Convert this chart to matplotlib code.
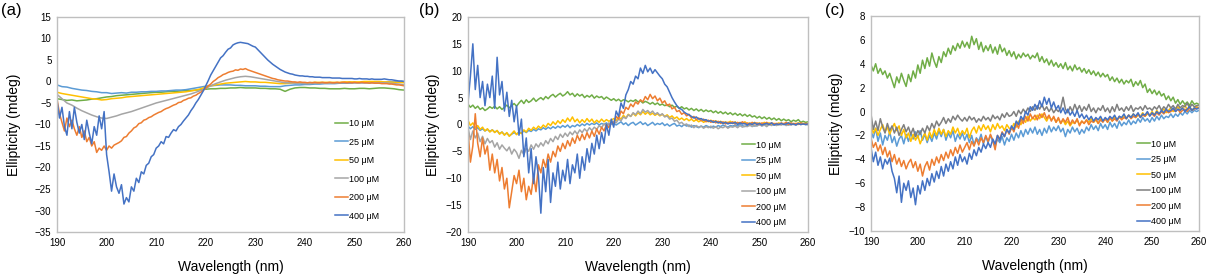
import numpy as np
import matplotlib
matplotlib.use('Agg')
import matplotlib.pyplot as plt

plt.rcParams['font.family'] = ['Liberation Sans', 'DejaVu Sans']

# spectra run from 190 to 260 nm; smooth traces sampled every 1 nm,
# noisy traces every 0.5 nm
labels = ['10 μM', '25 μM', '50 μM', '100 μM', '200 μM', '400 μM']

# ---- panel (a), 1 nm
a10 = [-4.0, -4.2, -4.4, -4.3, -4.5, -4.4, -4.3, -4.1, -4.0, -3.8,
       -3.6, -3.5, -3.3, -3.2, -3.1, -3.0, -2.9, -2.8, -2.7, -2.6,
       -2.5, -2.5, -2.4, -2.3, -2.3, -2.2, -2.1, -2.1, -2.0, -1.9,
       -1.8, -1.7, -1.7, -1.6, -1.6, -1.5, -1.5, -1.4, -1.5, -1.5,
       -1.5, -1.6, -1.6, -1.7, -1.7, -1.8, -2.3, -1.8, -1.5, -1.4,
       -1.4, -1.5, -1.5, -1.6, -1.6, -1.7, -1.7, -1.7, -1.6, -1.7,
       -1.7, -1.6, -1.6, -1.7, -1.6, -1.5, -1.5, -1.6, -1.7, -1.9, -2.0]
a25 = [-0.8, -1.2, -1.3, -1.6, -1.8, -2.0, -2.1, -2.3, -2.4, -2.6,
       -2.6, -2.8, -2.7, -2.6, -2.7, -2.5, -2.5, -2.4, -2.4, -2.3,
       -2.3, -2.2, -2.2, -2.1, -2.0, -2.0, -1.9, -1.7, -1.5, -1.3,
       -1.1, -1.0, -0.9, -0.8, -0.8, -0.8, -0.9, -0.9, -1.0, -1.0,
       -1.0, -1.1, -1.1, -1.2, -1.2, -1.2, -1.0, -0.9, -0.8, -0.8,
       -0.7, -0.7, -0.6, -0.6, -0.5, -0.5, -0.5, -0.4, -0.4, -0.4,
       -0.3, -0.3, -0.3, -0.3, -0.2, -0.2, -0.2, -0.1, -0.1, 0.0, 0.0]
a50 = [-2.5, -2.8, -3.0, -3.2, -3.4, -3.6, -3.8, -4.0, -4.1, -4.3,
       -4.2, -4.0, -3.9, -3.8, -3.6, -3.5, -3.4, -3.3, -3.2, -3.1,
       -3.0, -2.9, -2.8, -2.7, -2.6, -2.5, -2.4, -2.2, -2.0, -1.7,
       -1.3, -1.0, -0.8, -0.6, -0.4, -0.3, -0.2, -0.1, 0.0, -0.1,
       -0.1, -0.2, -0.2, -0.3, -0.4, -0.5, -0.5, -0.4, -0.3, -0.3,
       -0.3, -0.3, -0.2, -0.2, -0.2, -0.2, -0.2, -0.2, -0.1, -0.1,
       -0.1, -0.1, 0.0, 0.0, 0.0, 0.0, -0.1, -0.1, -0.2, -0.2, -0.3]
a100 = [-3.0, -4.0, -5.0, -5.5, -6.2, -6.8, -7.3, -7.8, -8.2, -8.5,
        -8.6, -8.3, -8.0, -7.6, -7.3, -7.0, -6.6, -6.2, -5.8, -5.4,
        -5.0, -4.7, -4.4, -4.1, -3.8, -3.5, -3.2, -2.9, -2.5, -2.1,
        -1.6, -1.0, -0.5, -0.1, 0.3, 0.6, 0.9, 1.1, 1.2, 1.1,
        0.9, 0.7, 0.5, 0.3, 0.1, -0.1, -0.3, -0.3, -0.4, -0.4,
        -0.5, -0.5, -0.4, -0.4, -0.4, -0.4, -0.3, -0.3, -0.3, -0.3,
        -0.3, -0.3, -0.3, -0.3, -0.3, -0.3, -0.3, -0.4, -0.5, -0.6, -0.8]
# 0.5 nm
a200 = [-4.0, -7.5, -9.5, -11.5, -8.5, -10.5, -9.0, -11.0, -12.5, -10.5,
        -13.0, -11.5, -14.0, -13.0, -15.0, -14.0, -16.5, -15.5, -16.0, -15.0,
        -16.0, -15.0, -15.5, -14.8, -14.5, -14.2, -13.8, -13.0, -12.8, -12.0,
        -11.5, -10.8, -10.5, -9.8, -9.6, -9.0, -8.8, -8.4, -8.2, -7.8,
        -7.5, -7.2, -7.0, -6.6, -6.3, -6.1, -5.8, -5.5, -5.3, -4.9,
        -4.8, -4.4, -4.2, -3.9, -3.8, -3.4, -3.2, -2.8, -2.5, -2.0,
        -1.6, -1.0, -0.6, 0.0, 0.4, 0.9, 1.2, 1.6, 1.8, 2.1,
        2.3, 2.4, 2.7, 2.6, 2.9, 2.8, 3.0, 2.7, 2.5, 2.3,
        2.1, 1.9, 1.7, 1.5, 1.3, 1.1, 0.9, 0.7, 0.6, 0.4,
        0.3, 0.2, 0.1, 0.1, 0.0, -0.1, -0.1, -0.2, -0.1, -0.2,
        -0.2, -0.3, -0.2, -0.3, -0.2, -0.3, -0.3, -0.2, -0.3, -0.3,
        -0.2, -0.3, -0.3, -0.2, -0.3, -0.2, -0.2, -0.3, -0.2, -0.3,
        -0.2, -0.3, -0.3, -0.2, -0.3, -0.3, -0.4, -0.3, -0.4, -0.4,
        -0.4, -0.5, -0.5, -0.5, -0.6, -0.6, -0.7, -0.8, -0.8, -0.9,
        -1.0]
a400 = [-4.5, -8.5, -6.0, -10.5, -12.5, -7.0, -11.0, -6.0, -9.5, -12.0,
        -10.0, -13.5, -9.0, -12.0, -14.5, -10.5, -12.5, -8.0, -11.0, -7.0,
        -17.0, -21.0, -25.5, -21.5, -24.5, -26.0, -24.0, -28.5, -27.0, -28.0,
        -24.5, -25.5, -22.5, -23.5, -21.0, -21.5, -19.5, -19.0, -17.5, -17.0,
        -15.5, -15.0, -14.0, -14.5, -12.8, -13.0, -12.0, -11.2, -11.5, -10.5,
        -10.0, -9.2, -8.5, -7.8, -6.8, -6.0, -5.0, -4.2, -3.2, -2.2,
        -1.0, 0.2, 1.5, 2.5, 3.5, 4.5, 5.5, 6.0, 6.8, 7.5,
        7.8, 8.5, 8.8, 9.0, 9.1, 9.0, 8.9, 8.8, 8.5, 8.2,
        8.0, 7.4, 6.8, 6.2, 5.6, 5.0, 4.5, 4.0, 3.6, 3.2,
        2.8, 2.5, 2.2, 2.0, 1.8, 1.7, 1.5, 1.4, 1.3, 1.3,
        1.2, 1.2, 1.1, 1.1, 1.0, 1.0, 1.0, 0.9, 0.9, 0.9,
        0.9, 0.8, 0.8, 0.8, 0.8, 0.7, 0.7, 0.7, 0.7, 0.7,
        0.6, 0.6, 0.7, 0.6, 0.6, 0.6, 0.5, 0.6, 0.5, 0.5,
        0.5, 0.5, 0.6, 0.5, 0.4, 0.4, 0.3, 0.2, 0.1, 0.1,
        0.0]

# ---- panel (b), 0.5 nm
b10 = [3.8, 3.2, 3.6, 3.0, 3.4, 2.8, 3.1, 2.6, 2.9, 3.3,
       3.0, 3.4, 2.9, 3.3, 2.8, 3.2, 3.6, 3.1, 3.5, 3.9,
       3.4, 4.0, 4.5, 3.9, 4.6, 4.1, 4.4, 4.9, 4.3, 4.7,
       5.0, 4.6, 5.2, 4.8, 5.3, 5.6, 5.1, 5.5, 5.8, 5.3,
       5.6, 6.1, 5.5, 5.8, 5.2, 5.7, 5.3, 5.6, 5.0, 5.4,
       5.1, 5.5, 4.9, 5.3, 5.0, 5.2, 4.7, 5.1, 4.8, 4.5,
       4.8, 4.4, 4.7, 4.3, 4.6, 4.5, 4.2, 4.5, 4.3, 4.6,
       4.2, 4.4, 4.0, 4.3, 4.1, 3.8, 4.1, 3.7, 4.0, 3.6,
       3.8, 3.5, 3.7, 3.3, 3.6, 3.2, 3.4, 3.0, 3.3, 2.9,
       3.1, 2.7, 3.0, 2.6, 2.9, 2.5, 2.8, 2.4, 2.7, 2.4,
       2.6, 2.2, 2.5, 2.1, 2.4, 2.0, 2.3, 1.9, 2.2, 1.8,
       2.1, 1.7, 2.0, 1.6, 1.9, 1.5, 1.8, 1.4, 1.6, 1.2,
       1.5, 1.1, 1.4, 1.0, 1.3, 0.9, 1.2, 0.8, 1.1, 0.7,
       1.0, 0.7, 0.9, 0.5, 0.8, 0.6, 0.9, 0.4, 0.6, 0.4,
       0.5]
b25 = [-0.3, -0.8, -0.4, -0.9, -0.6, -1.1, -0.8, -1.2, -0.9, -1.3,
       -1.0, -1.4, -1.2, -1.7, -1.4, -1.9, -1.6, -2.1, -1.8, -1.5,
       -1.8, -1.4, -1.6, -1.2, -1.5, -1.1, -1.3, -0.9, -1.2, -0.8,
       -1.0, -0.6, -0.9, -0.5, -0.8, -0.4, -0.7, -0.3, -0.6, -0.2,
       -0.5, -0.1, -0.6, -0.2, -0.4, 0.0, -0.3, 0.1, -0.2, 0.2,
       -0.1, 0.2, 0.0, 0.3, -0.1, 0.2, 0.0, 0.3, -0.1, 0.1,
       0.3, -0.1, 0.2, 0.5, 0.0, 0.3, -0.2, 0.2, 0.4, -0.1,
       0.2, 0.5, 0.0, 0.3, -0.2, 0.1, 0.4, -0.1, 0.2, 0.0,
       0.3, -0.2, 0.1, -0.3, 0.0, 0.2, -0.3, -0.1, -0.4, 0.0,
       -0.3, -0.1, -0.5, -0.2, -0.4, -0.6, -0.3, -0.5, -0.2, -0.4,
       -0.6, -0.3, -0.5, -0.2, -0.4, -0.1, -0.3, -0.5, -0.2, -0.3,
       -0.1, -0.3, 0.0, -0.2, -0.4, -0.1, -0.2, 0.0, -0.3, -0.1,
       0.0, -0.2, 0.1, -0.1, 0.0, 0.2, -0.1, 0.1, 0.0, 0.2,
       0.0, 0.1, -0.1, 0.2, 0.0, 0.1, 0.2, 0.0, 0.1, 0.0,
       0.0]
b50 = [0.8, -0.2, 0.3, -0.6, -0.2, -0.9, -0.5, -1.2, -0.8, -1.4,
       -1.0, -1.5, -1.1, -1.8, -1.4, -2.0, -1.5, -2.2, -1.7, -1.2,
       -1.9, -1.4, -1.7, -1.0, -1.4, -0.7, -1.1, -0.5, -0.9, -0.3,
       -0.7, -0.1, -0.5, 0.2, -0.2, 0.5, 0.0, 0.7, 0.2, 0.9,
       0.4, 1.2, 0.6, 1.4, 0.5, 1.0, 0.3, 0.9, 0.4, 1.1,
       0.5, 1.0, 0.3, 0.8, 0.4, 1.0, 0.5, 0.9, 0.6, 0.8,
       1.1, 0.7, 1.4, 1.0, 1.7, 1.2, 1.9, 1.5, 2.1, 1.6,
       2.2, 1.8, 2.4, 1.9, 2.3, 1.8, 2.1, 1.7, 2.0, 1.6,
       1.9, 1.5, 1.8, 1.3, 1.6, 1.1, 1.4, 0.9, 1.2, 0.8,
       1.1, 0.7, 1.0, 0.6, 0.9, 0.5, 0.8, 0.4, 0.7, 0.5,
       0.8, 0.4, 0.7, 0.3, 0.6, 0.2, 0.5, 0.3, 0.6, 0.2,
       0.5, 0.1, 0.4, 0.2, 0.5, 0.1, 0.3, 0.0, 0.4, 0.1,
       0.3, 0.0, 0.4, 0.1, 0.3, 0.0, 0.2, 0.1, 0.3, 0.0,
       0.2, 0.1, 0.3, 0.0, 0.2, 0.1, 0.3, 0.1, 0.2, 0.1,
       0.2]
b100 = [-0.5, -2.8, -1.2, -2.5, -1.6, -3.2, -2.2, -3.6, -2.6, -3.4,
        -3.0, -4.2, -3.4, -4.6, -3.8, -4.4, -4.9, -4.2, -5.5, -4.6,
        -5.2, -6.3, -4.8, -5.6, -4.4, -5.0, -3.8, -4.6, -3.6, -4.2,
        -3.4, -4.0, -3.0, -3.6, -2.6, -3.2, -2.2, -2.8, -1.8, -2.4,
        -1.6, -2.2, -1.4, -1.9, -1.2, -1.8, -1.0, -1.5, -0.8, -1.3,
        -0.6, -1.1, -0.5, -0.9, -0.2, -0.6, 0.1, -0.3, 0.3, 0.0,
        0.6, 0.3, 1.0, 0.7, 1.4, 1.1, 1.8, 1.5, 2.2, 1.8,
        2.5, 2.0, 2.8, 2.3, 2.6, 2.1, 2.5, 1.9, 2.2, 1.7,
        2.0, 1.4, 1.6, 1.0, 1.2, 0.6, 0.8, 0.2, 0.4, -0.1,
        0.1, -0.4, -0.1, -0.6, -0.2, -0.5, -0.3, -0.7, -0.4, -0.6,
        -0.3, -0.7, -0.4, -0.8, -0.5, -0.6, -0.3, -0.7, -0.4, -0.5,
        -0.3, -0.6, -0.2, -0.5, -0.3, -0.4, -0.1, -0.4, -0.2, -0.3,
        0.0, -0.3, -0.1, -0.4, 0.0, -0.2, 0.1, -0.2, 0.0, -0.1,
        0.1, -0.2, 0.0, -0.1, 0.1, -0.1, 0.1, 0.0, 0.1, 0.0,
        0.0]
b200 = [-1.0, -7.0, -4.0, 2.0, -3.5, -6.0, -2.5, -5.5, -4.0, -8.5,
        -5.5, -9.0, -6.5, -10.5, -8.0, -12.0, -10.0, -15.5, -12.5, -9.5,
        -11.0, -8.5, -12.5, -10.0, -14.0, -11.5, -13.0, -9.5, -12.5, -7.5,
        -9.0, -6.5, -8.0, -5.5, -7.0, -5.0, -6.0, -4.0, -5.0, -3.5,
        -4.5, -3.0, -4.0, -2.5, -3.5, -2.0, -3.0, -1.8, -2.8, -1.5,
        -2.5, -1.2, -2.2, -0.8, -1.8, -0.5, -1.2, 0.0, -0.6, 0.5,
        0.2, 1.5, 1.0, 2.5, 2.0, 3.2, 2.8, 3.8, 3.3, 4.2,
        3.8, 4.6, 4.2, 5.2, 4.6, 5.6, 4.8, 5.3, 4.4, 4.9,
        4.0, 4.4, 3.5, 3.8, 2.9, 3.2, 2.4, 2.6, 1.9, 2.2,
        1.6, 1.9, 1.2, 1.5, 0.9, 1.2, 0.7, 1.0, 0.5, 0.8,
        0.4, 0.7, 0.3, 0.6, 0.2, 0.5, 0.1, 0.4, 0.2, 0.5,
        0.1, 0.4, 0.2, 0.5, 0.1, 0.3, 0.0, 0.4, 0.1, 0.3,
        0.0, 0.3, 0.1, 0.4, 0.0, 0.3, 0.1, 0.2, 0.0, 0.3,
        0.1, 0.4, 0.0, 0.3, 0.1, 0.2, 0.0, 0.3, 0.1, 0.2,
        0.0]
b400 = [4.0, 9.0, 15.0, 6.5, 11.0, 5.0, 8.0, 3.5, 7.5, 5.0,
        9.0, 3.0, 12.5, 5.5, 8.0, 2.5, 6.0, 1.5, 4.5, 0.5,
        3.5, -2.0, 1.0, -6.0, -2.5, -9.0, -4.5, -11.0, -6.0, -9.5,
        -16.5, -8.0, -12.5, -6.5, -14.5, -9.0, -11.5, -7.0, -12.0, -8.5,
        -10.5, -6.5, -11.0, -7.5, -9.0, -5.5, -10.0, -6.0, -8.5, -4.5,
        -7.0, -3.5, -5.5, -2.0, -4.5, -1.5, -3.5, 0.0, -2.0, 1.0,
        -0.5, 2.5, 1.5, 4.0, 3.0, 5.5, 6.5, 8.0, 7.5, 9.0,
        8.5, 10.5, 9.5, 11.0, 9.8, 10.5, 9.5, 10.2, 9.6, 9.0,
        8.5, 7.5, 7.0, 6.0, 5.0, 4.2, 3.5, 3.0, 2.8, 2.3,
        2.0, 1.8, 1.5, 1.2, 1.4, 1.0, 1.1, 0.8, 0.9, 0.6,
        0.7, 0.4, 0.6, 0.3, 0.5, 0.2, 0.4, 0.1, 0.3, 0.2,
        0.4, 0.0, 0.3, 0.1, 0.2, -0.1, 0.2, 0.0, 0.3, 0.0,
        0.2, -0.1, 0.1, 0.2, 0.0, 0.3, -0.1, 0.1, 0.0, 0.2,
        0.0, 0.1, 0.3, 0.0, 0.1, -0.1, 0.2, 0.0, 0.1, 0.0,
        0.1]

# ---- panel (c), 0.5 nm
c10 = [3.9, 3.4, 4.0, 3.2, 3.6, 3.1, 3.4, 2.8, 3.2, 2.6,
       2.0, 2.9, 2.4, 3.2, 2.6, 2.1, 3.1, 2.5, 3.4, 2.8,
       3.9, 3.2, 4.3, 3.6, 4.5, 3.8, 4.9, 4.2, 3.7, 4.6,
       4.1, 5.0, 4.6, 5.3, 4.8, 5.5, 5.1, 5.7, 5.3, 5.9,
       5.4, 5.8, 5.3, 6.3, 5.6, 6.1, 5.2, 5.8, 5.0, 5.5,
       5.1, 5.6, 4.9, 5.4, 4.8, 5.6, 5.0, 5.3, 4.7, 5.1,
       4.6, 5.0, 4.4, 4.8, 4.5, 4.9, 4.6, 4.8, 4.4, 4.7,
       4.5, 4.9, 4.2, 4.6, 4.1, 4.4, 3.9, 4.3, 3.8, 4.1,
       3.7, 4.0, 3.6, 4.1, 3.5, 3.8, 3.4, 3.9, 3.5, 3.7,
       3.3, 3.6, 3.2, 3.5, 3.1, 3.4, 3.0, 3.3, 2.9, 3.2,
       2.9, 3.1, 2.6, 2.9, 2.5, 2.8, 2.4, 2.7, 2.3, 2.6,
       2.4, 2.7, 2.1, 2.5, 2.2, 2.6, 2.0, 2.3, 1.6, 1.9,
       1.5, 1.8, 1.4, 1.7, 1.3, 1.5, 1.0, 1.3, 0.9, 1.2,
       0.7, 1.0, 0.6, 0.9, 0.6, 0.8, 0.5, 0.9, 0.6, 0.7,
       0.6]
c25 = [-1.6, -2.2, -1.4, -2.5, -1.8, -2.8, -2.0, -2.4, -1.7, -2.6,
       -2.1, -2.9, -2.3, -2.0, -2.7, -1.9, -2.5, -1.8, -2.3, -1.7,
       -2.2, -1.6, -2.4, -1.9, -2.6, -2.0, -2.5, -1.8, -2.3, -1.6,
       -2.1, -1.5, -2.4, -1.8, -2.2, -1.6, -2.5, -1.9, -2.3, -1.8,
       -2.4, -1.9, -2.6, -2.0, -2.8, -2.2, -2.5, -1.9, -2.7, -2.1,
       -2.6, -2.0, -2.5, -2.9, -2.3, -2.6, -2.1, -2.8, -2.2, -2.5,
       -1.9, -2.4, -1.8, -2.2, -1.6, -2.1, -1.5, -1.9, -1.4, -1.8,
       -1.3, -1.9, -1.5, -2.0, -1.4, -1.8, -1.2, -1.7, -1.3, -1.6,
       -1.2, -1.7, -1.4, -2.1, -1.5, -1.8, -1.3, -1.7, -1.4, -1.9,
       -1.5, -1.8, -1.3, -1.6, -1.1, -1.5, -1.2, -1.6, -1.0, -1.4,
       -1.1, -1.5, -0.9, -1.3, -1.0, -1.4, -0.8, -1.2, -0.9, -1.1,
       -0.7, -1.1, -0.8, -1.0, -0.6, -0.9, -0.5, -0.8, -0.6, -0.9,
       -0.5, -0.8, -0.4, -0.7, -0.3, -0.6, -0.4, -0.5, -0.2, -0.5,
       -0.2, -0.4, -0.1, -0.3, 0.0, -0.2, 0.1, -0.1, 0.1, 0.0,
       0.1]
c50 = [-1.2, -1.8, -1.4, -2.0, -1.5, -1.1, -1.7, -1.3, -1.9, -1.4,
       -1.0, -1.6, -1.2, -2.0, -1.5, -2.2, -1.8, -2.5, -1.9, -2.4,
       -2.0, -2.7, -2.2, -1.8, -2.4, -1.7, -2.2, -1.5, -2.0, -1.4,
       -1.9, -1.5, -2.1, -1.6, -1.9, -1.3, -1.8, -1.4, -2.0, -1.6,
       -1.9, -1.4, -2.2, -1.6, -1.3, -1.8, -1.2, -1.6, -1.1, -1.5,
       -1.2, -1.7, -1.1, -1.5, -1.0, -1.4, -1.2, -1.6, -1.1, -1.4,
       -1.5, -1.0, -1.3, -0.8, -1.1, -0.6, -0.9, -0.4, -0.8, -0.5,
       -0.7, -0.3, -0.6, -0.2, -0.5, -0.8, -0.4, -0.7, -0.5, -0.9,
       -0.6, -1.0, -0.7, -1.1, -0.8, -1.2, -0.9, -1.0, -0.7, -1.1,
       -0.8, -1.0, -0.7, -0.9, -0.6, -0.9, -0.7, -1.0, -0.6, -0.8,
       -0.6, -0.9, -0.5, -0.8, -0.4, -0.7, -0.5, -0.6, -0.3, -0.6,
       -0.3, -0.5, -0.2, -0.5, -0.3, -0.4, -0.1, -0.4, -0.2, -0.3,
       0.0, -0.3, 0.1, -0.2, 0.0, 0.2, -0.1, 0.1, 0.3, 0.0,
       0.2, 0.4, 0.1, 0.3, 0.5, 0.2, 0.4, 0.1, 0.3, 0.4,
       0.3]
c100 = [-0.2, -1.5, -0.8, -1.6, -0.6, -1.3, -1.8, -1.0, -1.6, -1.2,
        -1.8, -1.3, -2.0, -1.5, -1.1, -1.7, -1.3, -1.9, -1.4, -2.1,
        -1.6, -1.9, -1.4, -1.8, -1.2, -1.6, -1.0, -1.4, -0.8, -1.2,
        -0.9, -0.5, -1.0, -0.6, -0.9, -0.4, -0.7, -0.3, -0.6, -0.8,
        -0.5, -0.8, -0.4, -0.7, -0.5, -0.9, -0.6, -0.8, -0.4, -0.7,
        -0.5, -0.8, -0.3, -0.6, -0.4, -0.7, -0.2, -0.5, -0.1, -0.4,
        -0.3, 0.0, -0.4, 0.1, -0.2, 0.2, -0.1, 0.3, 0.0, 0.4,
        0.1, 0.5, 0.2, 0.6, 0.1, 0.4, 0.0, 0.3, -0.1, 0.2,
        0.0, 0.3, 1.2, 0.2, -0.1, 0.4, 0.0, 0.6, 0.1, 0.5,
        0.0, 0.4, 0.1, 0.6, 0.0, 0.3, -0.1, 0.3, 0.1, 0.5,
        0.0, 0.3, -0.1, 0.4, 0.0, 0.6, 0.1, 0.3, 0.0, 0.4,
        0.1, 0.5, 0.0, 0.3, 0.2, 0.4, 0.1, 0.5, 0.2, 0.3,
        0.1, 0.4, 0.2, 0.5, 0.1, 0.4, 0.2, 0.6, 0.3, 0.5,
        0.2, 0.6, 0.3, 0.5, 0.4, 0.7, 0.3, 0.6, 0.4, 0.5,
        0.5]
c200 = [-2.2, -3.0, -2.6, -3.3, -2.8, -3.6, -3.0, -3.8, -3.3, -4.2,
        -3.6, -4.4, -3.9, -4.6, -4.1, -4.8, -4.3, -4.0, -4.7, -4.2,
        -5.0, -4.4, -5.4, -4.6, -4.2, -4.9, -4.0, -4.5, -3.8, -4.3,
        -3.6, -4.1, -3.4, -3.9, -3.2, -3.7, -3.0, -3.5, -2.8, -3.4,
        -3.0, -2.6, -3.2, -2.5, -2.9, -2.3, -2.8, -2.2, -2.6, -2.0,
        -2.5, -1.9, -2.4, -3.2, -2.0, -2.3, -1.7, -2.1, -1.5, -1.9,
        -1.3, -1.7, -1.0, -1.4, -0.6, -1.0, -0.4, -0.8, -0.2, -0.6,
        -0.3, -0.7, -0.2, -0.5, -0.1, -0.6, -0.3, -0.8, -0.4, -0.9,
        -0.5, -1.0, -0.6, -0.9, -0.5, -1.1, -0.7, -1.0, -0.6, -1.2,
        -0.8, -1.0, -0.7, -1.1, -0.8, -0.9, -0.6, -1.0, -0.7, -0.9,
        -0.6, -0.9, -0.5, -0.8, -0.6, -0.8, -0.4, -0.7, -0.5, -0.6,
        -0.3, -0.6, -0.4, -0.5, -0.2, -0.5, -0.3, -0.4, -0.1, -0.3,
        -0.2, -0.4, -0.1, -0.3, 0.0, -0.2, 0.1, -0.1, 0.0, 0.2,
        0.0, 0.2, -0.1, 0.1, 0.2, 0.0, 0.3, 0.1, 0.2, 0.3,
        0.3]
c400 = [-3.0, -4.2, -3.4, -4.5, -3.8, -4.8, -4.0, -4.4, -3.9, -5.0,
        -5.6, -6.8, -5.4, -7.6, -6.0, -6.6, -5.8, -7.2, -6.4, -7.8,
        -6.2, -6.9, -5.8, -6.6, -5.6, -6.2, -5.2, -5.9, -5.0, -5.6,
        -4.6, -5.4, -4.4, -5.0, -4.2, -4.8, -3.8, -4.5, -3.6, -4.2,
        -3.8, -4.4, -3.5, -4.0, -3.2, -3.7, -3.0, -3.4, -2.7, -3.1,
        -2.6, -3.0, -2.3, -2.7, -2.0, -2.4, -1.8, -2.1, -1.5, -1.8,
        -1.2, -1.5, -0.8, -1.1, -0.4, -0.7, 0.0, -0.3, 0.4, 0.1,
        0.6, 0.2, 0.9, 0.4, 1.2, 0.6, 1.1, 0.3, 0.8, 0.2,
        0.5, -0.1, 0.3, -0.2, 0.2, -0.3, 0.0, -0.4, 0.1, -0.5,
        -0.2, -0.6, -0.3, -0.7, -0.4, -0.8, -0.5, -0.7, -0.4, -0.8,
        -0.5, -0.7, -0.4, -0.6, -0.3, -0.7, -0.4, -0.5, -0.2, -0.6,
        -0.3, -0.5, -0.2, -0.4, -0.1, -0.5, -0.2, -0.3, 0.0, -0.4,
        -0.1, -0.3, 0.0, -0.2, 0.1, -0.1, 0.2, 0.0, 0.1, 0.3,
        0.0, 0.2, 0.1, 0.3, 0.0, 0.2, 0.4, 0.1, 0.3, 0.2,
        0.3]

colors_ab = ['#70AD47', '#5B9BD5', '#FFC000', '#A5A5A5', '#ED7D31', '#4472C4']
colors_c = ['#70AD47', '#5B9BD5', '#FFC000', '#7F7F7F', '#ED7D31', '#4472C4']

fig = plt.figure(figsize=(12.08, 2.8), dpi=100)

panels = [
    ('(a)', [a10, a25, a50, a100, a200, a400], colors_ab,
     [0.0472, 0.1714, 0.2873, 0.768], (-35, 15), 5, (0.80, 0.525), 1.05, 0.001, 10),
    ('(b)', [b10, b25, b50, b100, b200, b400], colors_ab,
     [0.3874, 0.1714, 0.2815, 0.768], (-20, 20), 5, (0.805, 0.425), 0.72, 0.347, 4),
    ('(c)', [c10, c25, c50, c100, c200, c400], colors_c,
     [0.721, 0.175, 0.2715, 0.768], (-10, 8), 2, (0.81, 0.425), 0.72, 0.683, 4),
]

for tag, series, cols, pos, ylim, ystep, lpos, lspace, tagx, ypad in panels:
    ax = fig.add_axes(pos)
    for ys, c, lab in zip(series, cols, labels):
        x = np.linspace(190, 260, len(ys))
        ax.plot(x, ys, color=c, lw=1.1, label=lab)
    ax.set_xlim(190, 260)
    ax.set_ylim(*ylim)
    ax.set_xticks(np.arange(190, 261, 10))
    ax.set_yticks(np.arange(ylim[0], ylim[1] + 0.1, ystep))
    ax.tick_params(length=0, labelsize=7, pad=4)
    for s in ax.spines.values():
        s.set_color('#BFBFBF')
        s.set_linewidth(1)
    ax.set_xlabel('Wavelength (nm)', fontsize=10, labelpad=9)
    ax.set_ylabel('Ellipticity (mdeg)', fontsize=10, labelpad=ypad)
    ax.legend(loc='upper left', bbox_to_anchor=lpos, frameon=False,
              fontsize=6.5, handlelength=1.5, handletextpad=0.1,
              labelspacing=lspace, borderaxespad=0, borderpad=0)
    fig.text(tagx, 0.99, tag, fontsize=12, ha='left', va='top')

fig.savefig('out.png', dpi=100)
